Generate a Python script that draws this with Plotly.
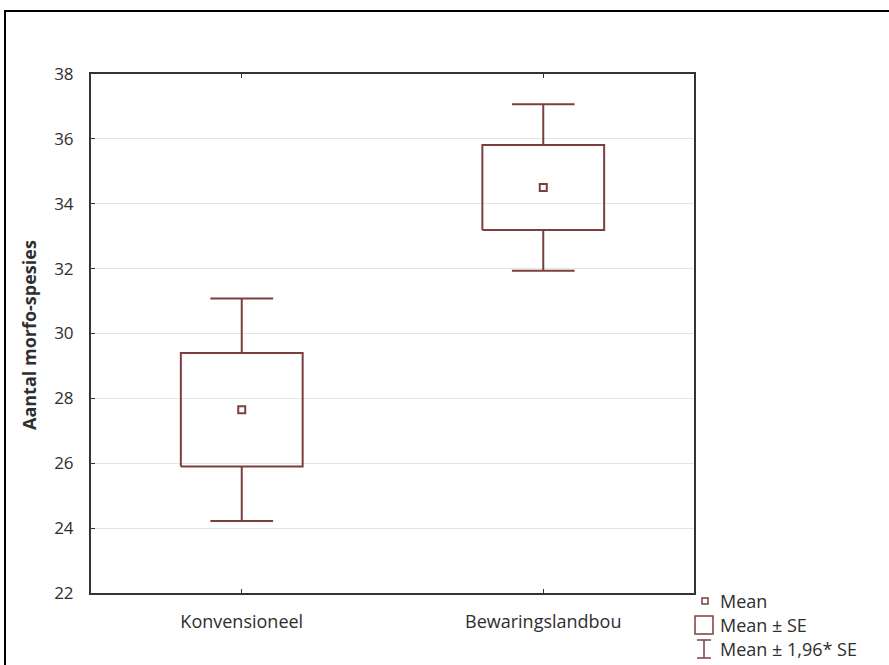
import plotly.graph_objects as go

categories = ["Konvensioneel", "Bewaringslandbou"]
means = [27.65, 34.50]
se = [1.75, 1.31]
ci_factor = 1.96

y_ticks = [22, 24, 26, 28, 30, 32, 34, 36, 38]
legend_labels = ["Mean", "Mean ± SE", "Mean ± 1,96* SE"]
y_title = "Aantal morfo-spesies"

COL = "#7b3f3f"
TXT = "#2e2e2e"
FONT = "Open Sans"
W, H = 889, 665
L, R, T, B = 91, 694, 74, 593

box_half = 0.202
cap_half = 0.104

fig = go.Figure()

xs_box, ys_box, xs_wh, ys_wh = [], [], [], []
for i, (m, s) in enumerate(zip(means, se)):
    lo, hi = m - s, m + s
    wlo, whi = m - ci_factor * s, m + ci_factor * s
    xs_box += [i - box_half, i + box_half, i + box_half, i - box_half, i - box_half, None]
    ys_box += [lo, lo, hi, hi, lo, None]
    xs_wh += [i, i, None, i - cap_half, i + cap_half, None,
              i, i, None, i - cap_half, i + cap_half, None]
    ys_wh += [hi, whi, None, whi, whi, None, lo, wlo, None, wlo, wlo, None]

fig.add_trace(go.Scatter(x=xs_wh, y=ys_wh, mode="lines",
                         line=dict(color=COL, width=2), hoverinfo="skip", showlegend=False))
fig.add_trace(go.Scatter(x=xs_box, y=ys_box, mode="lines",
                         line=dict(color=COL, width=2), hoverinfo="skip", showlegend=False))
fig.add_trace(go.Scatter(x=list(range(len(categories))), y=means, mode="markers",
                         marker=dict(symbol="square-open", size=7, color=COL,
                                     line=dict(width=2, color=COL)),
                         showlegend=False))

def px_x(px):
    return (px - L) / (R - L)

def px_y(py):
    return (B - py) / (B - T)

shapes = []
# outer frame
shapes.append(dict(type="rect", xref="paper", yref="paper",
                   x0=px_x(5), x1=px_x(900), y0=px_y(11), y1=px_y(680),
                   line=dict(color="black", width=2), fillcolor="rgba(0,0,0,0)", layer="below"))
# legend icons
shapes.append(dict(type="rect", xref="paper", yref="paper",
                   x0=px_x(702), x1=px_x(708), y0=px_y(598), y1=px_y(604),
                   line=dict(color=COL, width=1.5)))
shapes.append(dict(type="rect", xref="paper", yref="paper",
                   x0=px_x(695), x1=px_x(713), y0=px_y(616), y1=px_y(634),
                   line=dict(color=COL, width=1.5)))
shapes.append(dict(type="line", xref="paper", yref="paper",
                   x0=px_x(704), x1=px_x(704), y0=px_y(640), y1=px_y(658),
                   line=dict(color=COL, width=1.5)))
shapes.append(dict(type="line", xref="paper", yref="paper",
                   x0=px_x(697), x1=px_x(711), y0=px_y(640), y1=px_y(640),
                   line=dict(color=COL, width=1.5)))
shapes.append(dict(type="line", xref="paper", yref="paper",
                   x0=px_x(697), x1=px_x(711), y0=px_y(658), y1=px_y(658),
                   line=dict(color=COL, width=1.5)))

annotations = []
for lab, py in zip(legend_labels, [601, 625, 649]):
    annotations.append(dict(text=lab, xref="paper", yref="paper", x=px_x(718), y=px_y(py),
                            xanchor="left", yanchor="middle", showarrow=False,
                            font=dict(family=FONT, size=18, color=TXT)))
annotations.append(dict(text="<b>" + y_title + "</b>", xref="paper", yref="paper",
                        x=px_x(29), y=px_y(335), xanchor="center", yanchor="middle",
                        textangle=-90, showarrow=False,
                        font=dict(family=FONT, size=18, color=TXT)))

fig.update_layout(
    width=W, height=H,
    margin=dict(l=L, r=W - R, t=T, b=H - B, pad=0),
    paper_bgcolor="white", plot_bgcolor="white",
    font=dict(family=FONT, size=17, color=TXT),
    shapes=shapes, annotations=annotations,
    showlegend=False,
)
fig.update_xaxes(range=[-0.5, 1.5], tickvals=list(range(len(categories))), ticktext=categories,
                 showgrid=False, zeroline=False, showline=True, linecolor="#333", linewidth=2,
                 mirror="ticks", ticks="inside", ticklen=4, tickcolor="#333",
                 ticklabelstandoff=11,
                 tickfont=dict(family=FONT, size=18, color=TXT))
fig.update_yaxes(range=[22, 38], tickvals=y_ticks,
                 showgrid=True, gridcolor="#e3e3e3", gridwidth=1, zeroline=False,
                 showline=True, linecolor="#333", linewidth=2, mirror=True,
                 ticks="inside", ticklen=4, tickcolor="#333",
                 ticklabelstandoff=12,
                 tickfont=dict(family=FONT, size=17, color=TXT))

fig.write_html("out.html", config={"displayModeBar": False},
               post_script="document.body.style.margin='0px';")
